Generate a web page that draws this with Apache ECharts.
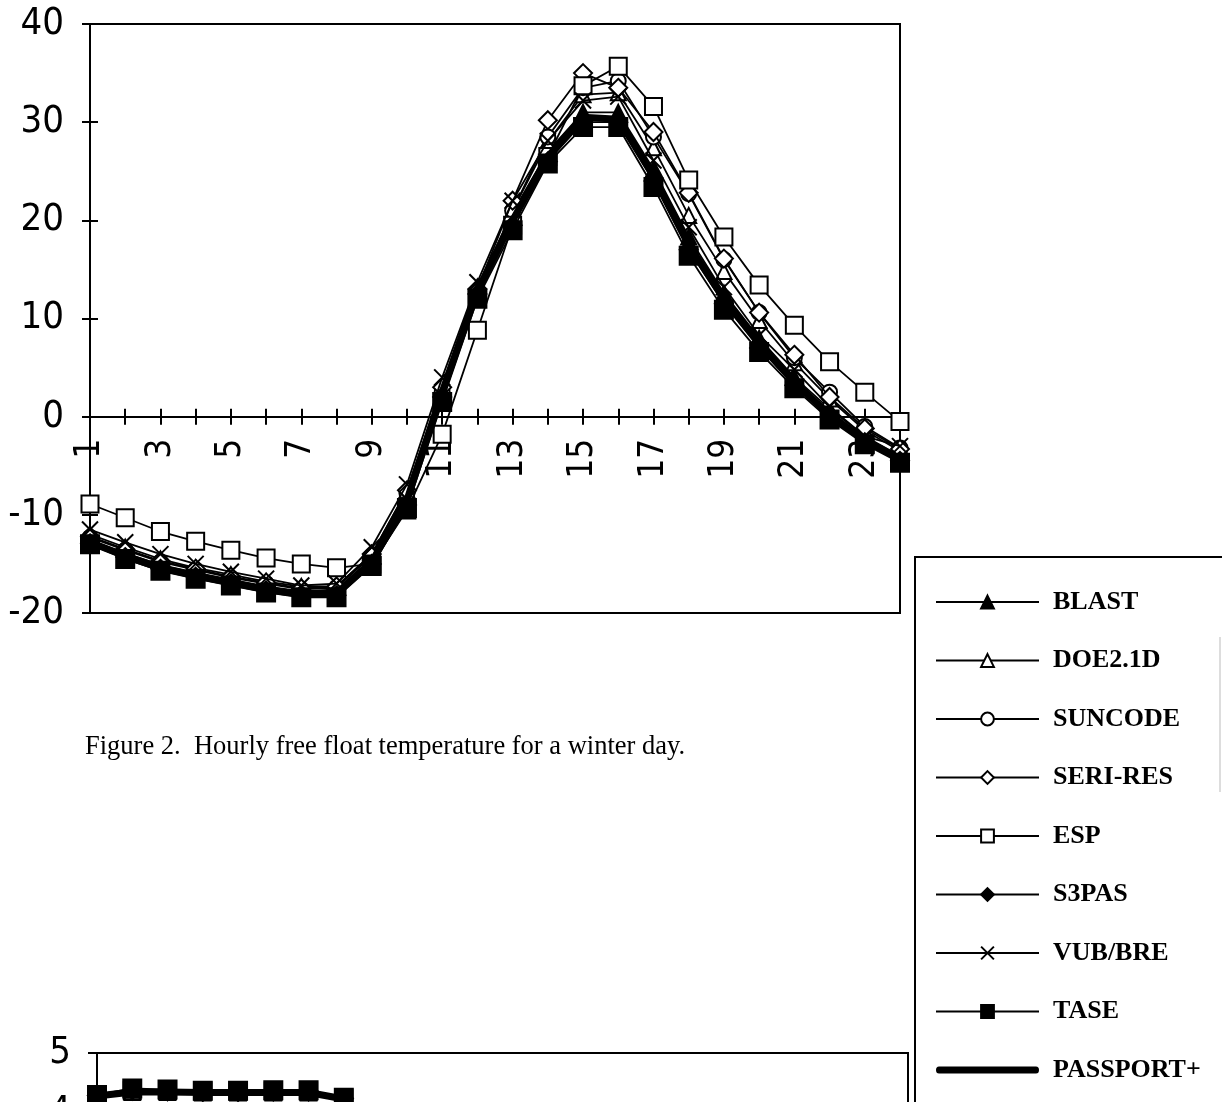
<!DOCTYPE html>
<html><head><meta charset="utf-8">
<script src="https://cdn.jsdelivr.net/npm/echarts@6/dist/echarts.min.js"></script>
<style>html,body{margin:0;padding:0;background:#fff;}#c{width:1222px;height:1102px;}</style>
</head><body><div id="c"></div>
<script>
// ---- categories (hours) ----
const hours = ['1','2','3','4','5','6','7','8','9','10','11','12','13','14','15','16','17','18','19','20','21','22','23','24'];
const seriesNames = ['BLAST','DOE2.1D','SUNCODE','SERI-RES','ESP','S3PAS','VUB/BRE','TASE','PASSPORT+'];
const yTicksTop = [-20, -10, 0, 10, 20, 30, 40];

// ---- Figure 2: hourly free float temperature, winter day ----
const blast    = [-12.6,-13.9,-15.1,-15.9,-16.6,-17.3,-17.8,-17.6,-14.5,-8.0, 2.8,13.2,20.8,27.0,31.0,31.0,25.2,18.3,12.6, 8.0, 4.0, 0.8,-2.0,-4.0];
const doe21d   = [-12.0,-13.3,-14.5,-15.4,-16.1,-16.8,-17.3,-17.3,-14.0,-7.5, 3.0,13.0,21.0,28.0,32.8,33.0,27.4,20.5,14.8, 9.8, 5.5, 1.8,-1.4,-3.5];
const suncode  = [-12.3,-13.6,-14.8,-15.6,-16.4,-17.0,-17.6,-17.4,-14.2,-7.8, 2.5,12.4,21.0,28.5,33.5,34.2,28.5,22.7,16.0,10.6, 6.0, 2.5,-1.0,-3.2];
const seriRes  = [-12.2,-13.5,-14.7,-15.5,-16.3,-16.9,-17.5,-17.3,-14.0,-7.5, 3.0,13.0,22.0,30.2,35.0,33.5,29.0,22.8,16.1,10.6, 6.3, 2.0,-1.2,-3.3];
const esp      = [ -8.9,-10.3,-11.7,-12.7,-13.6,-14.4,-15.0,-15.4,-15.0,-9.5,-1.8, 8.8,19.5,26.5,33.7,35.7,31.6,24.1,18.3,13.4, 9.3, 5.6, 2.5,-0.5];
const s3pas    = [-12.9,-14.3,-15.5,-16.3,-17.0,-17.7,-18.2,-18.2,-15.0,-9.0, 2.0,12.5,19.5,26.0,30.0,30.0,24.0,17.0,11.5, 7.0, 3.2, 0.0,-2.6,-4.5];
const vubBre   = [-11.5,-12.8,-14.0,-15.0,-15.8,-16.5,-17.2,-17.0,-13.3,-6.9, 4.0,13.7,22.0,28.1,32.2,32.6,26.1,19.3,13.2, 8.3, 4.8, 1.0,-2.0,-3.0];
const tase     = [-13.0,-14.5,-15.7,-16.5,-17.2,-17.9,-18.4,-18.4,-15.2,-9.3, 1.5,12.0,19.0,25.8,29.5,29.5,23.4,16.4,10.9, 6.6, 2.9,-0.3,-2.8,-4.7];
const passport = [-12.8,-14.2,-15.4,-16.2,-16.9,-17.6,-18.1,-18.0,-14.8,-8.5, 2.5,12.8,20.0,26.5,30.5,30.3,24.5,17.5,12.0, 7.5, 3.5, 0.2,-2.4,-4.3];

// ---- next figure (only its top edge is visible, hours 1-8) ----
const yTicksBottom = [0, 1, 2, 3, 4, 5];
const blastB    = [4.26,4.33,4.33,4.32,4.32,4.32,4.32,4.21];
const doe21dB   = [4.27,4.35,4.35,4.34,4.34,4.34,4.34,4.22];
const suncodeB  = [4.27,4.35,4.35,4.34,4.34,4.34,4.34,4.22];
const seriResB  = [4.28,4.36,4.35,4.34,4.34,4.35,4.35,4.23];
const espB      = [4.28,4.36,4.36,4.35,4.35,4.35,4.35,4.23];
const s3pasB    = [4.28,4.37,4.36,4.35,4.35,4.35,4.35,4.23];
const vubBreB   = [4.27,4.36,4.35,4.34,4.34,4.34,4.34,4.22];
const taseB     = [4.29,4.40,4.38,4.36,4.36,4.37,4.37,4.24];
const passportB = [4.27,4.34,4.34,4.33,4.33,4.33,4.33,4.22];

const topData = [blast, doe21d, suncode, seriRes, esp, s3pas, vubBre, tase, passport];
const bottomData = [blastB, doe21dB, suncodeB, seriResB, espB, s3pasB, vubBreB, taseB, passportB];

const crossPath = 'path://M0,0L10,10M10,0L0,10';
const styles = [
  {symbol:'triangle', size:15, fill:'#000'},
  {symbol:'triangle', size:15, fill:'#fff'},
  {symbol:'circle',   size:15, fill:'#fff'},
  {symbol:'diamond',  size:18, fill:'#fff'},
  {symbol:'rect',     size:17, fill:'#fff'},
  {symbol:'diamond',  size:18, fill:'#000'},
  {symbol:crossPath,  size:16, fill:'#fff'},
  {symbol:'rect',     size:18, fill:'#000'},
  {symbol:'none',     size:0,  fill:'#000', thick:true}
];

const GRID_TOP = 24, GRID_H = 589;
const zeroOffset = -GRID_H * (0 - yTicksTop[0]) / (yTicksTop[yTicksTop.length-1] - yTicksTop[0]);

const numFont = "'Liberation Sans Narrow','DejaVu Sans Condensed','Liberation Sans',sans-serif";
const serif = "'Liberation Serif','Times New Roman',serif";
const series = [];
seriesNames.forEach((name, i) => {
  const st = styles[i];
  const base = {
    name, type:'line', symbol: st.symbol, symbolSize: st.size, showSymbol: st.symbol !== 'none',
    lineStyle: {color:'#000', width: st.thick ? 7 : 1.8},
    itemStyle: {color: st.fill, borderColor:'#000', borderWidth: st.thick ? 0 : 2},
    emphasis: {disabled:true}, animation:false, z: 2 + i
  };
  series.push(Object.assign({}, base, {xAxisIndex:0, yAxisIndex:0, data: topData[i]}));
  series.push(Object.assign({}, base, {xAxisIndex:2, yAxisIndex:2, data: bottomData[i]}));
});

const legendData = seriesNames.map(n => n === 'PASSPORT+'
  ? {name:n, icon:'path://M0,0M0,16M3,4.5L100,4.5Q103,4.5 103,8Q103,11.5 100,11.5L3,11.5Q0,11.5 0,8Q0,4.5 3,4.5Z'}
  : {name:n});

const chart = echarts.init(document.getElementById('c'), null, {renderer:'canvas'});
chart.setOption({
  animation:false,
  backgroundColor:'#fff',
  title: {
    text:'Figure 2.  Hourly free float temperature for a winter day.',
    left: 85, top: 734, padding:0,
    textStyle: {fontFamily:serif, fontWeight:'normal', fontSize:26.5, color:'#000'}
  },
  grid: [
    {left:90, top:GRID_TOP, width:810, height:GRID_H, show:true, borderColor:'#000', borderWidth:2, backgroundColor:'transparent', outerBoundsMode:'none', containLabel:false},
    {left:97, top:1053, width:811, height:295, show:true, borderColor:'#000', borderWidth:2, backgroundColor:'transparent', outerBoundsMode:'none', containLabel:false}
  ],
  xAxis: [
    {type:'category', gridIndex:0, data:hours, boundaryGap:false, position:'bottom', offset: zeroOffset,
     axisLine:{onZero:false, lineStyle:{color:'#000', width:2}},
     axisTick:{show:true, inside:false, length:8, interval:0, lineStyle:{color:'#000', width:2}},
     axisLabel:{interval:1, rotate:90, margin:22, color:'#000', fontSize:35, fontFamily:numFont},
     splitLine:{show:false}},
    {type:'category', gridIndex:0, data:hours, boundaryGap:false, position:'bottom', offset: zeroOffset,
     axisLine:{onZero:false, lineStyle:{color:'#000', width:2}},
     axisTick:{show:true, inside:true, length:8, interval:0, lineStyle:{color:'#000', width:2}},
     axisLabel:{show:false}, splitLine:{show:false}},
    {type:'category', gridIndex:1, data:hours, boundaryGap:false, position:'bottom',
     axisLine:{onZero:false, lineStyle:{color:'#000', width:2}},
     axisTick:{show:false}, axisLabel:{show:false}, splitLine:{show:false}}
  ],
  yAxis: [
    {type:'value', gridIndex:0, min:yTicksTop[0], max:yTicksTop[yTicksTop.length-1], interval:10, position:'left',
     axisLine:{show:true, onZero:false, lineStyle:{color:'#000', width:2}},
     axisTick:{show:true, inside:false, length:8, lineStyle:{color:'#000', width:2}},
     axisLabel:{margin:26, color:'#000', fontSize:38, fontFamily:numFont},
     splitLine:{show:false}},
    {type:'value', gridIndex:0, min:yTicksTop[0], max:yTicksTop[yTicksTop.length-1], interval:10, position:'left', offset:0,
     axisLine:{show:true, onZero:false, lineStyle:{color:'#000', width:2}},
     axisTick:{show:true, inside:true, length:8, lineStyle:{color:'#000', width:2}},
     axisLabel:{show:false}, splitLine:{show:false}},
    {type:'value', gridIndex:1, min:yTicksBottom[0], max:yTicksBottom[yTicksBottom.length-1], interval:1, position:'left',
     axisLine:{show:true, onZero:false, lineStyle:{color:'#000', width:2}},
     axisTick:{show:true, inside:false, length:9, lineStyle:{color:'#000', width:2}},
     axisLabel:{margin:26, color:'#000', fontSize:38, fontFamily:numFont},
     splitLine:{show:false}}
  ],
  legend: {
    orient:'vertical', left:935, top:589, padding:0, itemWidth:103, itemHeight:16, itemGap:32.5,
    selectedMode:false, data: legendData,
    textStyle:{fontFamily:serif, fontWeight:'bold', fontSize:26, lineHeight:26, color:'#000', padding:[0,0,0,9]}
  },
  graphic: [
    {type:'rect', shape:{x:915, y:557, width:330, height:600}, style:{fill:'none', stroke:'#000', lineWidth:2}, z:0},
    {type:'line', shape:{x1:1220, y1:637, x2:1220, y2:792}, style:{stroke:'#bbb', lineWidth:1}, z:0}
  ],
  series
});
</script></body></html>
